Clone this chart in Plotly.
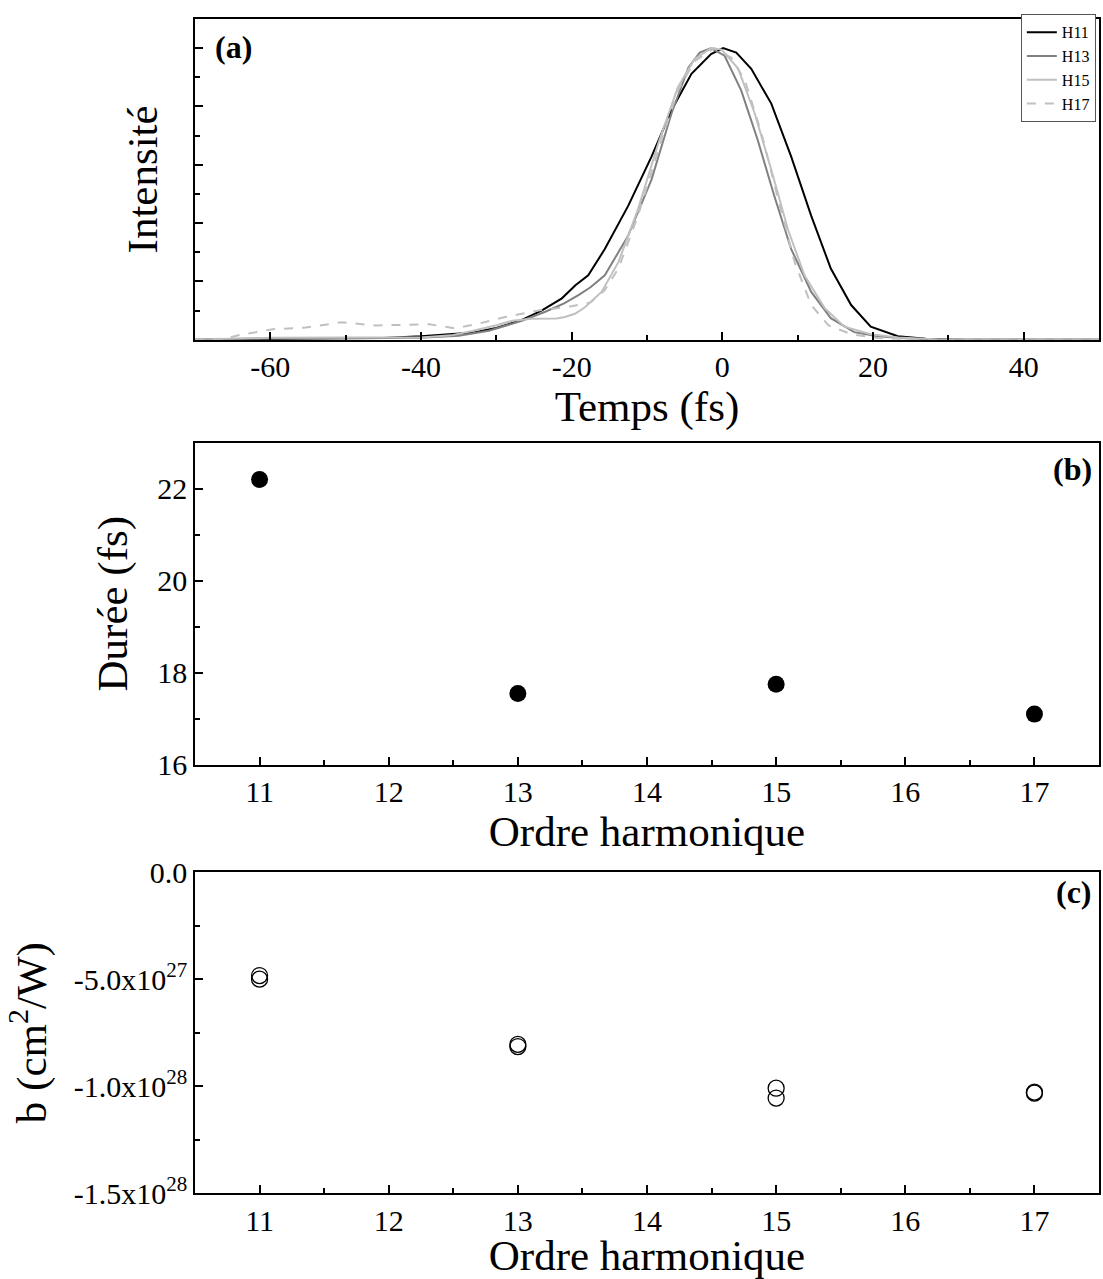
import plotly.graph_objects as go

# ---------------- data ----------------
# Panel (a): temporal intensity profiles (normalised)
t_h11 = [-70, -60, -53, -45, -40, -36, -33, -30, -26.6, -24, -21.3, -19.5, -17.8, -15.6, -12.5, -9.4, -6.75, -4.1, -1.5, 0.1, 1.85, 3.84, 6.5, 9.14, 11.8, 14.4, 17.1, 19.7, 23.3, 27, 32, 40, 50]
i_h11 = [0.0, 0.002, 0.003, 0.006, 0.012, 0.018, 0.025, 0.04, 0.068, 0.1, 0.142, 0.187, 0.221, 0.311, 0.459, 0.628, 0.787, 0.912, 0.98, 1.0, 0.985, 0.929, 0.81, 0.628, 0.425, 0.244, 0.119, 0.045, 0.012, 0.003, 0.0, 0.0, 0.0]

t_h13 = [-70, -60, -50, -40, -35, -31, -26.6, -23.5, -21, -19.1, -17.5, -15.6, -12.5, -9.4, -6.75, -4.5, -3.0, -1.5, 0.3, 2.5, 4.7, 6.9, 9.14, 11.8, 14.4, 17.5, 20.6, 25, 30, 40, 50]
i_h13 = [0.0, 0.005, 0.006, 0.007, 0.014, 0.031, 0.065, 0.096, 0.125, 0.153, 0.18, 0.221, 0.357, 0.549, 0.776, 0.934, 0.985, 1.0, 0.974, 0.855, 0.685, 0.493, 0.311, 0.164, 0.074, 0.026, 0.012, 0.003, 0.0, 0.0, 0.0]

t_h15 = [-70, -60, -50, -40, -36, -33.2, -30, -27.9, -25.3, -23.5, -22, -20.9, -19.5, -18.2, -16, -13.8, -11.2, -8.5, -5.9, -3.7, -1.5, -0.1, 2.1, 4.3, 6.5, 8.7, 10.9, 13.6, 16.2, 19.7, 23.3, 28, 35, 50]
i_h15 = [0.0, 0.007, 0.008, 0.008, 0.015, 0.03, 0.05, 0.065, 0.072, 0.073, 0.073, 0.078, 0.09, 0.112, 0.165, 0.266, 0.447, 0.674, 0.866, 0.962, 1.0, 0.995, 0.93, 0.776, 0.583, 0.379, 0.221, 0.108, 0.045, 0.019, 0.008, 0.002, 0.0, 0.0]

t_h17 = [-70, -66, -64.1, -59.7, -55.3, -50.5, -46, -42, -38.9, -35.4, -32.4, -28.8, -24.4, -20, -17.5, -15.6, -13.8, -11.2, -8.5, -5.9, -3.7, -1.1, 1.2, 3.0, 5.2, 7.3, 9.6, 11.8, 14.1, 17.1, 20.6, 25, 30, 50]
i_h17 = [0.0, 0.004, 0.016, 0.036, 0.042, 0.06, 0.049, 0.051, 0.053, 0.039, 0.055, 0.078, 0.1, 0.115, 0.128, 0.17, 0.244, 0.425, 0.651, 0.855, 0.955, 1.0, 0.967, 0.889, 0.708, 0.493, 0.266, 0.119, 0.049, 0.019, 0.006, 0.001, 0.0, 0.0]

# Panel (b): pulse duration vs harmonic order
orders_b = [11, 13, 15, 17]
duree_fs = [22.2, 17.55, 17.75, 17.1]

# Panel (c): b coefficient (two measurements per harmonic)
orders_c = [11, 11, 13, 13, 15, 15, 17, 17]
b_coef = [-4.83e27, -5.0e27, -8.05e27, -8.15e27, -1.01e28, -1.056e28, -1.028e28, -1.033e28]

# tick labels
xa_ticks = [-60, -40, -20, 0, 20, 40]
xa_ticktext = ["-60", "-40", "-20", "0", "20", "40"]
xb_ticks = [11, 12, 13, 14, 15, 16, 17]
yb_ticks = [16, 18, 20, 22]
yc_tickvals = [0, -5e27, -1e28, -1.5e28]
yc_ticktext = ["0.0", "-5.0x10<sup>27</sup>", "-1.0x10<sup>28</sup>", "-1.5x10<sup>28</sup>"]

# ---------------- figure ----------------
FONT = "Liberation Serif"
fig = go.Figure()

fig.add_trace(go.Scatter(x=t_h11, y=i_h11, mode="lines", name="H11",
                         line=dict(color="black", width=2), xaxis="x", yaxis="y"))
fig.add_trace(go.Scatter(x=t_h13, y=i_h13, mode="lines", name="H13",
                         line=dict(color="#808080", width=2), xaxis="x", yaxis="y"))
fig.add_trace(go.Scatter(x=t_h15, y=i_h15, mode="lines", name="H15",
                         line=dict(color="#c0c0c0", width=2), xaxis="x", yaxis="y"))
fig.add_trace(go.Scatter(x=t_h17, y=i_h17, mode="lines", name="H17",
                         line=dict(color="#c0c0c0", width=2, dash="dash"), xaxis="x", yaxis="y"))

fig.add_trace(go.Scatter(x=orders_b, y=duree_fs, mode="markers", showlegend=False,
                         marker=dict(color="black", size=17, symbol="circle"),
                         xaxis="x2", yaxis="y2"))
fig.add_trace(go.Scatter(x=orders_c, y=b_coef, mode="markers", showlegend=False,
                         marker=dict(color="black", size=16, symbol="circle-open",
                                     line=dict(color="black", width=1.3)),
                         xaxis="x3", yaxis="y3"))

common = dict(showline=True, linecolor="black", linewidth=1.5, mirror=True,
              ticks="inside", ticklen=8, tickwidth=1.5, tickcolor="black",
              showgrid=False, zeroline=False,
              tickfont=dict(family=FONT, size=30, color="black"))

title_font = dict(family=FONT, size=43, color="black")
minor_style = dict(ticks="inside", ticklen=5, tickcolor="black", tickwidth=1.5)

fig.update_layout(
    width=1103, height=1279,
    margin=dict(l=195, r=2, t=8, b=86),
    paper_bgcolor="white", plot_bgcolor="white",
    font=dict(family=FONT, color="black"),
    xaxis=dict(common, domain=[0, 1], anchor="y", range=[-70, 50],
               tickvals=xa_ticks, ticktext=xa_ticktext, minor=dict(minor_style, dtick=10),
               title=dict(text="Temps (fs)", font=title_font, standoff=0)),
    yaxis=dict(common, domain=[0.7268, 1], anchor="x", range=[0, 1.1], dtick=0.2,
               showticklabels=False, minor=dict(minor_style, dtick=0.1),
               title=dict(text="Intensité", font=title_font, standoff=22)),
    xaxis2=dict(common, domain=[0, 1], anchor="y2", range=[10.5, 17.5],
                tickvals=xb_ticks, minor=dict(minor_style, dtick=0.5),
                title=dict(text="Ordre harmonique", font=title_font, standoff=0)),
    yaxis2=dict(common, domain=[0.3648, 0.6391], anchor="x2", range=[16, 23],
                tickvals=yb_ticks, minor=dict(minor_style, dtick=1),
                title=dict(text="Durée (fs)", font=title_font, standoff=16)),
    xaxis3=dict(common, domain=[0, 1], anchor="y3", range=[10.5, 17.5],
                tickvals=xb_ticks, minor=dict(minor_style, dtick=0.5),
                title=dict(text="Ordre harmonique", font=title_font, standoff=0)),
    yaxis3=dict(common, domain=[0, 0.2732], anchor="x3", range=[-1.5e28, 0],
                tickvals=yc_tickvals, ticktext=yc_ticktext,
                minor=dict(minor_style, dtick=2.5e27),
                title=dict(text="b (cm<sup>2</sup>/W)", font=title_font, standoff=14)),
    legend=dict(x=0.9965, xanchor="right", y=1.004, yanchor="top",
                bgcolor="white", bordercolor="#555555", borderwidth=1,
                font=dict(family=FONT, size=16, color="black"),
                tracegroupgap=0, itemwidth=30),
    showlegend=True,
)

label_font = dict(family=FONT, size=32, color="black")
fig.add_annotation(text="<b>(a)</b>", xref="x domain", yref="y domain", x=0.043, y=0.912,
                   showarrow=False, font=label_font, xanchor="center", yanchor="middle")
fig.add_annotation(text="<b>(b)</b>", xref="x2 domain", yref="y2 domain", x=0.995, y=0.918,
                   showarrow=False, font=label_font, xanchor="right", yanchor="middle")
fig.add_annotation(text="<b>(c)</b>", xref="x3 domain", yref="y3 domain", x=0.995, y=0.938,
                   showarrow=False, font=label_font, xanchor="right", yanchor="middle")

fig.write_html("out.html",
               config={"displayModeBar": False},
               post_script="document.body.style.margin='0px';document.body.style.overflow='hidden';")
